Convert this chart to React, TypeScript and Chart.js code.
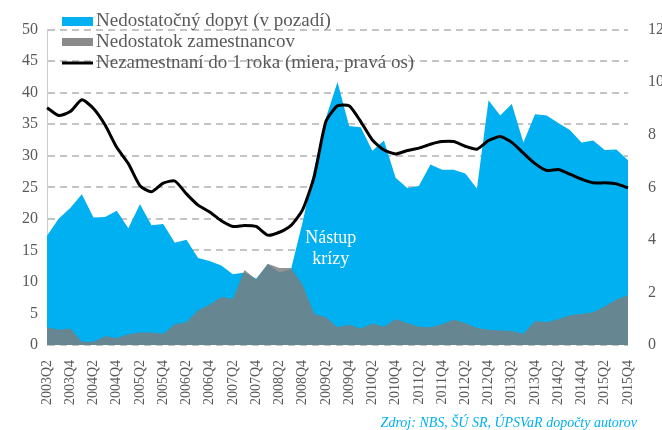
import { useEffect, useRef } from "react";
import { Chart, registerables } from "chart.js";

Chart.register(...registerables);

const quarters = [
  "2003Q2", "2003Q3", "2003Q4",
  "2004Q1", "2004Q2", "2004Q3", "2004Q4",
  "2005Q1", "2005Q2", "2005Q3", "2005Q4",
  "2006Q1", "2006Q2", "2006Q3", "2006Q4",
  "2007Q1", "2007Q2", "2007Q3", "2007Q4",
  "2008Q1", "2008Q2", "2008Q3", "2008Q4",
  "2009Q1", "2009Q2", "2009Q3", "2009Q4",
  "2010Q1", "2010Q2", "2010Q3", "2010Q4",
  "2011Q1", "2011Q2", "2011Q3", "2011Q4",
  "2012Q1", "2012Q2", "2012Q3", "2012Q4",
  "2013Q1", "2013Q2", "2013Q3", "2013Q4",
  "2014Q1", "2014Q2", "2014Q3", "2014Q4",
  "2015Q1", "2015Q2", "2015Q3", "2015Q4",
];

const nedostatocnyDopyt = [
  17.3, 20.0, 21.7, 23.9, 20.2, 20.3, 21.3, 18.5, 22.3, 19.0, 19.2, 16.2, 16.7,
  13.8, 13.3, 12.6, 11.2, 11.5, 10.5, 12.8, 11.5, 12.0, 19.5, 28.0, 36.0, 41.7,
  34.7, 34.5, 30.8, 32.4, 26.5, 24.9, 25.2, 28.6, 27.8, 27.8, 27.2, 24.8, 38.8,
  36.4, 38.2, 32.1, 36.6, 36.4, 35.2, 34.1, 32.1, 32.4, 30.9, 31.0, 29.3,
];

const nedostatokZamestnancov = [
  2.8, 2.4, 2.6, 0.5, 0.5, 1.4, 1.1, 1.7, 2.0, 2.0, 1.8, 3.3, 3.6, 5.5, 6.4, 7.6,
  7.3, 11.9, 10.4, 12.9, 12.2, 12.2, 9.5, 4.9, 4.4, 2.8, 3.2, 2.6, 3.4, 2.9, 4.1,
  3.5, 2.9, 2.8, 3.3, 4.0, 3.5, 2.7, 2.4, 2.3, 2.2, 1.8, 3.8, 3.6, 4.1, 4.7, 4.9,
  5.2, 6.1, 7.2, 7.9,
];

const nezamestnani = [
  9.03, 8.73, 8.88, 9.33, 9.0, 8.37, 7.52, 6.9, 6.06, 5.83, 6.16, 6.24, 5.75,
  5.32, 5.06, 4.73, 4.51, 4.55, 4.51, 4.18, 4.29, 4.55, 5.15, 6.42, 8.5, 9.1,
  9.1, 8.5, 7.8, 7.42, 7.27, 7.4, 7.49, 7.64, 7.74, 7.74, 7.56, 7.45, 7.78,
  7.93, 7.71, 7.3, 6.9, 6.64, 6.68, 6.5, 6.31, 6.17, 6.17, 6.13, 5.98,
];

const legendLabels = [
  "Nedostatočný dopyt (v pozadí)",
  "Nedostatok zamestnancov",
  "Nezamestnaní do 1 roka (miera, pravá os)",
];
const annotationLines = ["Nástup", "krízy"];
const sourceText = "Zdroj: NBS, ŠÚ SR, ÚPSVaR dopočty autorov";

const BLUE = "#00b0f0";
const GREY = "rgba(125,125,125,0.82)";
const GREY_SOLID = "#8a8a8a";
const TEXT = "#595959";
const GRID = "#c4c4c4";
const FONT = "'Liberation Serif', 'DejaVu Serif', serif";

const overlayPlugin = {
  id: "overlay",
  afterDraw(chart: any) {
    const ctx = chart.ctx as CanvasRenderingContext2D;
    ctx.save();
    const lx = 62;
    const rows = [21.5, 42, 63];
    ctx.fillStyle = BLUE;
    ctx.fillRect(lx, 17, 31, 9);
    ctx.fillStyle = GREY_SOLID;
    ctx.fillRect(lx, 38, 31, 8);
    ctx.strokeStyle = "#000";
    ctx.lineWidth = 3;
    ctx.beginPath();
    ctx.moveTo(lx, rows[2]);
    ctx.lineTo(lx + 31, rows[2]);
    ctx.stroke();
    ctx.font = `19px ${FONT}`;
    ctx.fillStyle = TEXT;
    ctx.textBaseline = "middle";
    ctx.textAlign = "left";
    legendLabels.forEach((t, i) => ctx.fillText(t, 96, rows[i]));

    const xs = chart.scales.x;
    const cx = (xs.getPixelForValue(24) + xs.getPixelForValue(25)) / 2 - 1;
    ctx.font = `18px ${FONT}`;
    ctx.fillStyle = "#ffffff";
    ctx.textAlign = "center";
    ctx.fillText(annotationLines[0], cx, 238);
    ctx.fillText(annotationLines[1], cx, 259);

    ctx.font = `italic 14px ${FONT}`;
    ctx.fillStyle = BLUE;
    ctx.textAlign = "right";
    ctx.textBaseline = "alphabetic";
    ctx.fillText(sourceText, 637, 427);
    ctx.restore();
  },
};

export default function App() {
  const ref = useRef<HTMLCanvasElement>(null);

  useEffect(() => {
    document.body.style.margin = "0";
    const canvas = ref.current;
    if (!canvas) return;
    const chart = new Chart(canvas, {
      type: "line",
      data: {
        labels: quarters,
        datasets: [
          {
            label: legendLabels[2],
            data: nezamestnani,
            yAxisID: "y1",
            borderColor: "#000000",
            borderWidth: 3,
            pointRadius: 0,
            tension: 0.2,
            fill: false,
            order: 0,
          },
          {
            label: legendLabels[1],
            data: nedostatokZamestnancov,
            yAxisID: "y",
            borderWidth: 0,
            borderColor: "rgba(0,0,0,0)",
            backgroundColor: GREY,
            pointRadius: 0,
            tension: 0,
            fill: "origin",
            order: 1,
          },
          {
            label: legendLabels[0],
            data: nedostatocnyDopyt,
            yAxisID: "y",
            borderWidth: 0,
            borderColor: "rgba(0,0,0,0)",
            backgroundColor: BLUE,
            pointRadius: 0,
            tension: 0,
            fill: "origin",
            order: 2,
          },
        ],
      },
      options: {
        responsive: false,
        animation: false,
        layout: { padding: { top: 18, left: 0, right: 0, bottom: 0 } },
        plugins: {
          legend: { display: false },
          tooltip: { enabled: false },
        },
        scales: {
          x: {
            offset: false,
            grid: { display: false },
            border: { display: false },
            ticks: {
              autoSkip: false,
              maxRotation: 90,
              minRotation: 90,
              padding: 7,
              color: TEXT,
              font: { family: FONT, size: 14 },
              callback: (_v: any, i: number) => (i % 2 === 0 ? quarters[i] : ""),
            },
            afterFit: (s: any) => {
              s.height = 85;
            },
          },
          y: {
            position: "left",
            min: 0,
            max: 50,
            ticks: {
              stepSize: 5,
              padding: 9,
              color: TEXT,
              font: { family: FONT, size: 16 },
            },
            grid: {
              display: true,
              drawOnChartArea: true,
              drawTicks: false,
              color: GRID,
              lineWidth: 2,
            },
            border: { display: true, color: "#cccccc", width: 1, dash: [7, 5] },
            afterFit: (s: any) => {
              s.width = 47;
            },
          },
          y1: {
            position: "right",
            min: 0,
            max: 12,
            ticks: {
              stepSize: 2,
              padding: 20,
              color: TEXT,
              font: { family: FONT, size: 16 },
            },
            grid: { display: false, drawTicks: false },
            border: { display: false },
            afterFit: (s: any) => {
              s.width = 34;
            },
          },
        },
      },
      plugins: [overlayPlugin],
    });
    return () => chart.destroy();
  }, []);

  return (
    <div style={{ position: "fixed", left: 0, top: 0, width: 662, height: 430, background: "#fff" }}>
      <canvas ref={ref} width={662} height={430} />
    </div>
  );
}
